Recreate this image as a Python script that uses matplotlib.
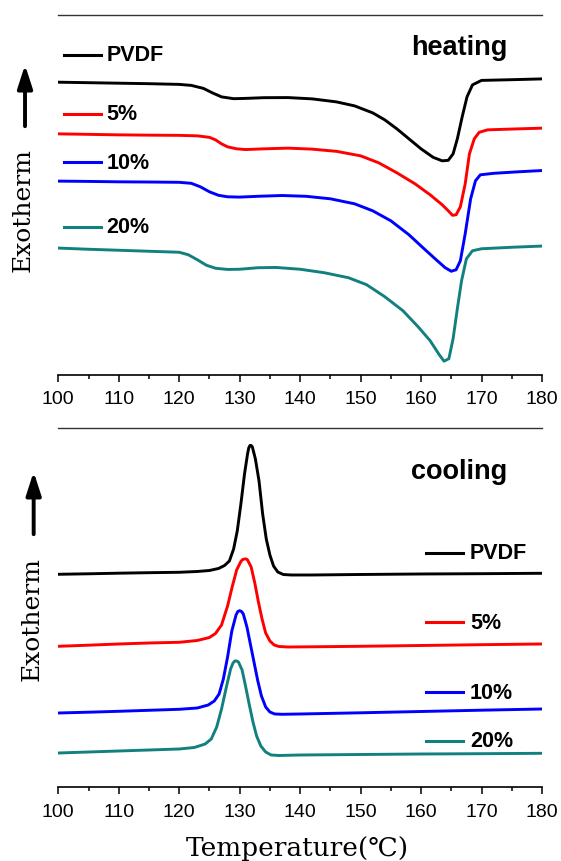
import matplotlib
matplotlib.use("Agg")
import matplotlib.pyplot as plt
from matplotlib.patches import FancyArrowPatch
from matplotlib.lines import Line2D
from matplotlib.ticker import MultipleLocator

plt.rcParams['font.family'] = ['Liberation Sans', 'DejaVu Sans']

# ---- heating scans (temperature in C, heat flow in a.u.) ----
t_heat_pvdf = [100, 105, 110, 115, 120, 122, 124, 125.5, 127, 129, 131, 134, 138, 142, 146, 149,
               152, 154, 156, 158, 160, 162, 163.5, 164.5, 165.3, 166, 166.8, 167.6, 168.5, 170, 175, 180]
h_heat_pvdf = [29.27, 29.22, 29.17, 29.12, 29.05, 28.95, 28.65, 28.2, 27.8, 27.62, 27.65, 27.72, 27.73,
               27.6, 27.3, 26.9, 26.2, 25.5, 24.6, 23.6, 22.6, 21.75, 21.4, 21.45, 22.1, 23.6, 25.8,
               27.8, 29.0, 29.45, 29.52, 29.6]

t_heat_5 = [100, 105, 110, 115, 120, 123, 125, 126, 127, 128, 129.5, 131, 134, 138, 142, 146, 150,
            153, 156, 159, 161.5, 163.5, 164.5, 165.2, 165.8, 166.5, 167.3, 168, 168.8, 169.6, 171, 175, 180]
h_heat_5 = [24.1, 24.05, 24.0, 23.97, 23.95, 23.9, 23.75, 23.5, 23.1, 22.8, 22.6, 22.53, 22.6, 22.67,
            22.57, 22.35, 21.9, 21.2, 20.2, 19.1, 18.0, 17.0, 16.4, 15.95, 16.0, 16.8, 19.1, 22.1,
            23.6, 24.25, 24.5, 24.58, 24.67]

t_heat_10 = [100, 105, 110, 115, 120, 122, 123.5, 125, 126.5, 128, 130, 133, 137, 141, 145, 149, 152,
             155, 158, 160.5, 162.5, 164, 165, 165.8, 166.5, 167.3, 168.2, 169, 169.8, 172, 176, 180]
h_heat_10 = [19.37, 19.34, 19.3, 19.28, 19.25, 19.15, 18.8, 18.3, 17.95, 17.8, 17.77, 17.85, 17.93,
             17.85, 17.6, 17.1, 16.4, 15.4, 14.0, 12.6, 11.5, 10.7, 10.35, 10.5, 11.4, 14.1, 17.6,
             19.4, 20.0, 20.15, 20.3, 20.43]

t_heat_20 = [100, 105, 110, 115, 120, 121.5, 123, 124.5, 126, 128, 130, 133, 136, 140, 144, 148, 151,
             154, 157, 159.5, 161.5, 163, 163.8, 164.6, 165.3, 166, 166.7, 167.5, 168.5, 170, 175, 180]
h_heat_20 = [12.67, 12.55, 12.45, 12.35, 12.25, 12.0, 11.5, 10.95, 10.65, 10.53, 10.55, 10.7, 10.73,
             10.55, 10.2, 9.7, 9.0, 7.8, 6.4, 4.8, 3.4, 2.0, 1.35, 1.6, 3.6, 6.6, 9.4, 11.6, 12.4,
             12.6, 12.75, 12.87]

# ---- cooling scans ----
t_cool_pvdf = [100, 105, 110, 115, 120, 123, 125, 126.5, 127.5, 128.3, 129, 129.6, 130.2, 130.8, 131.3,
               131.5, 131.7, 131.9, 132.1, 132.6, 133.2, 133.8, 134.4, 135, 135.6, 136.3, 137.2, 138.5,
               142, 150, 160, 170, 180]
h_cool_pvdf = [21.27, 21.32, 21.38, 21.43, 21.47, 21.55, 21.65, 21.85, 22.15, 22.6, 23.8, 25.6, 28.3,
               31.3, 33.3, 33.9, 34.15, 34.15, 34.0, 32.8, 30.6, 27.3, 24.8, 23.2, 22.1, 21.5, 21.25,
               21.2, 21.2, 21.25, 21.3, 21.33, 21.37]

t_cool_5 = [100, 105, 110, 115, 120, 123, 125, 126, 127, 128, 128.8, 129.5, 130.2, 130.5, 130.8, 131.1,
            131.3, 131.9, 132.5, 133.1, 133.7, 134.3, 135, 135.7, 136.5, 138, 142, 150, 160, 170, 180]
h_cool_5 = [14.07, 14.18, 14.3, 14.4, 14.47, 14.65, 14.95, 15.35, 16.2, 18.1, 20.1, 21.7, 22.55, 22.75,
            22.8, 22.8, 22.7, 22.0, 20.4, 18.5, 16.8, 15.4, 14.6, 14.2, 14.05, 14.0, 14.02, 14.07,
            14.15, 14.23, 14.3]

t_cool_10 = [100, 105, 110, 115, 120, 123, 124.8, 125.8, 126.6, 127.3, 128, 128.7, 129.4, 129.7, 130,
             130.3, 130.6, 131.2, 131.8, 132.4, 133, 133.6, 134.3, 135, 135.8, 137, 140, 150, 160, 170, 180]
h_cool_10 = [7.4, 7.48, 7.57, 7.67, 7.77, 7.9, 8.2, 8.6, 9.3, 10.8, 13.0, 15.6, 17.2, 17.55, 17.63,
             17.55, 17.3, 16.0, 14.2, 12.4, 10.6, 9.1, 8.0, 7.5, 7.3, 7.27, 7.3, 7.42, 7.55, 7.68, 7.8]

t_cool_20 = [100, 105, 110, 115, 120, 122.5, 124.3, 125.3, 126.2, 127, 127.8, 128.5, 128.9, 129.2, 129.5,
             129.8, 130.4, 131, 131.6, 132.2, 132.8, 133.5, 134.3, 135.2, 136.5, 140, 150, 160, 170, 180]
h_cool_20 = [3.4, 3.5, 3.6, 3.7, 3.8, 3.95, 4.3, 4.8, 6.0, 7.8, 10.0, 11.8, 12.4, 12.6, 12.6, 12.5,
             11.7, 10.0, 8.2, 6.5, 5.1, 4.1, 3.5, 3.2, 3.15, 3.2, 3.25, 3.3, 3.33, 3.37]

labels = ['PVDF', '5%', '10%', '20%']
colors = ['black', '#ff0000', '#0000ff', '#138080']

heat = [(t_heat_pvdf, h_heat_pvdf), (t_heat_5, h_heat_5), (t_heat_10, h_heat_10), (t_heat_20, h_heat_20)]
cool = [(t_cool_pvdf, h_cool_pvdf), (t_cool_5, h_cool_5), (t_cool_10, h_cool_10), (t_cool_20, h_cool_20)]

fig = plt.figure(figsize=(5.61, 8.62), dpi=100)
ax1 = fig.add_axes([0.1039, 0.5642, 0.8622, 0.4173])
ax2 = fig.add_axes([0.1039, 0.0855, 0.8622, 0.4165])


def style(ax):
    ax.set_xlim(100, 180)
    ax.spines['left'].set_visible(False)
    ax.spines['right'].set_visible(False)
    ax.spines['top'].set_color('#333333')
    ax.spines['top'].set_linewidth(1.0)
    ax.spines['bottom'].set_linewidth(1.2)
    ax.set_yticks([])
    ax.xaxis.set_major_locator(MultipleLocator(10))
    ax.xaxis.set_minor_locator(MultipleLocator(5))
    ax.tick_params(axis='x', which='major', direction='out', length=5, width=1.1,
                   labelsize=14, pad=6)
    ax.tick_params(axis='x', which='minor', direction='out', length=3, width=1.1)


style(ax1)
style(ax2)
ax1.set_ylim(0, 36)
ax2.set_ylim(-0.03, 35.87)

for (t, h), c in zip(heat, colors):
    ax1.plot(t, h, color=c, lw=2.1, solid_joinstyle='round')
for (t, h), c in zip(cool, colors):
    ax2.plot(t, h, color=c, lw=2.1, solid_joinstyle='round')

# hand placed legends, as in the original figure
leg_top_y = [0.889, 0.7248, 0.5905, 0.4115]
for lab, c, y in zip(labels, colors, leg_top_y):
    ax1.add_line(Line2D([0.012, 0.088], [y, y], transform=ax1.transAxes, color=c, lw=2.2))
    ax1.text(0.099, y, lab, transform=ax1.transAxes, fontsize=15.5, fontweight='bold', va='center')

leg_bot_y = [0.6527, 0.4596, 0.2646, 0.1298]
for lab, c, y in zip(labels, colors, leg_bot_y):
    ax2.add_line(Line2D([0.760, 0.837], [y, y], transform=ax2.transAxes, color=c, lw=2.2))
    ax2.text(0.851, y, lab, transform=ax2.transAxes, fontsize=15.5, fontweight='bold', va='center')

ax1.text(0.829, 0.912, 'heating', transform=ax1.transAxes, fontsize=19.5, fontweight='bold',
         ha='center', va='center')
ax2.text(0.829, 0.882, 'cooling', transform=ax2.transAxes, fontsize=19.5, fontweight='bold',
         ha='center', va='center')

# Exotherm arrows with the label below each arrow
serif = ['DejaVu Serif', 'Noto Sans CJK SC']
for x, y0, y1, ty in [(0.0446, 0.8492, 0.9269, 1 - 210 / 862), (0.0600, 0.3759, 0.4548, 1 - 619 / 862)]:
    arr = FancyArrowPatch((x, y0), (x, y1), transform=fig.transFigure,
                          arrowstyle='-|>,head_length=1.4,head_width=0.45',
                          mutation_scale=10, lw=2.8, color='black')
    fig.patches.append(arr)
    fig.text(x - 0.003, ty, 'Exotherm', rotation=90, fontsize=18,
             family=serif, ha='center', va='center')

fig.text(0.530, 0.007, 'Temperature(℃)', fontsize=19, family=serif, ha='center', va='baseline')

fig.savefig('out.png', dpi=100)
